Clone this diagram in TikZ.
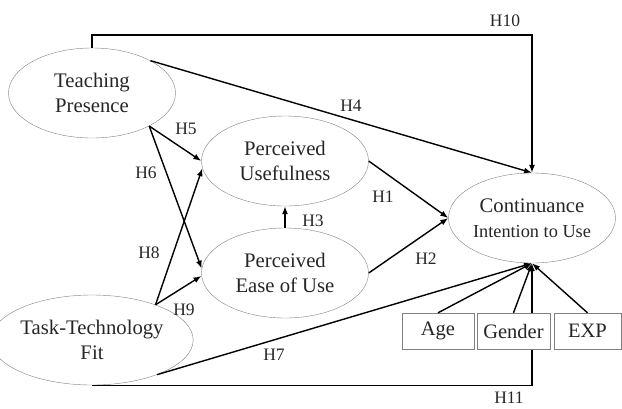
\documentclass[tikz,border=0pt]{standalone}
\usepackage{fontspec}
\setmainfont{Liberation Serif}
\usetikzlibrary{shapes.geometric,arrows.meta}

\begin{document}
\begin{tikzpicture}[x=1pt, y=-1pt,
    construct/.style={draw=gray, ellipse, minimum width=167pt, minimum height=90pt, inner sep=0pt, align=center, text=black!85, font=\fontsize{20.7}{24.8}\selectfont},
    control/.style={draw=gray, fill=white, minimum height=36pt, inner sep=0pt, text=black!85, font=\fontsize{20.5}{24}\selectfont},
    hyp/.style={inner sep=0pt, text=black!85, font=\fontsize{17.5}{20}\selectfont},
    link/.style={->, line width=1.4pt},
    >={Latex[length=8pt,width=6pt]}]
    \useasboundingbox (0,0) rectangle (622,408);
    \node (tp) [construct] at (92,93) {Teaching\\Presence};
    \node (pu) [construct] at (285,161) {Perceived\\Usefulness};
    \node (peou) [construct] at (285,273) {Perceived\\Ease of Use};
    \node (ttf) [construct] at (92,340) {Task-Technology\\Fit};
    \node (ci) [construct] at (532,218) {Continuance\\{\fontsize{18.3}{22}\selectfont Intention to Use}};
    \draw[link] (ttf.south) -| (ci.south);
    \node (age) [control, minimum width=72pt] at (438,331) {Age};
    \node (gender) [control, minimum width=73pt] at (513.5,331) {Gender};
    \node (exp) [control, minimum width=67pt] at (587.5,331) {EXP};
    \draw[link] (tp.north) -- ++(0,-13) -| (ci.north);
    \draw[link] (tp.29) -- (ci.north);
    \draw[link] (tp.-30) -- (pu.180);
    \draw[link] (tp.-30) -- (peou.177);
    \draw[link] (ttf.29) -- (pu.185);
    \draw[link] (ttf.29) -- (peou.182);
    \draw[link] (peou.north) -- (pu.south);
    \draw[link] (pu.east) -- (ci.west);
    \draw[link] (peou.east) -- (ci.west);
    \draw[link] (ttf.-28) -- (ci.south);
    \draw[link] (age.north) -- (ci.south);
    \draw[link] (gender.north) -- (ci.south);
    \draw[link] (exp.north) -- (ci.south);
    \foreach \lab/\px/\py in {H1/383/197, H2/426/259, H3/313/221, H4/351/106, H5/186/129, H6/146/173,
        H7/274/355, H8/149/253, H9/184/310, H10/505/21, H11/509/398}
      \node (\lab) [hyp] at (\px,\py) {\lab};
  \end{tikzpicture}
\end{document}
